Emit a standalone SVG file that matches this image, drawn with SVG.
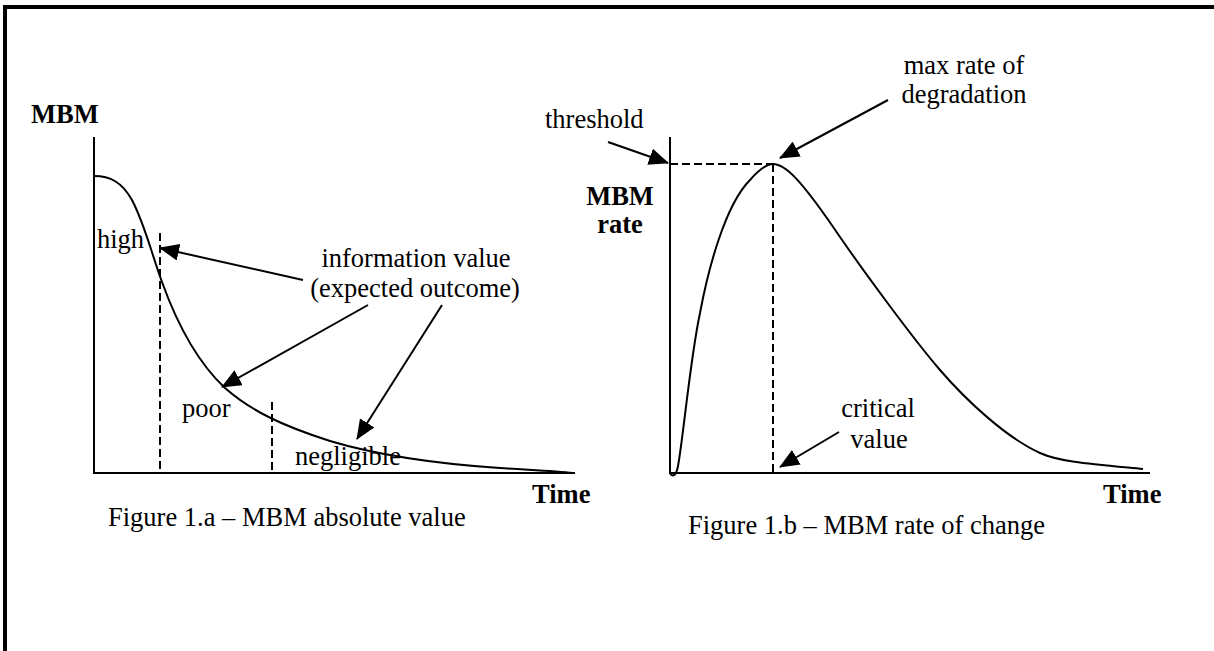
<svg xmlns="http://www.w3.org/2000/svg" width="1214" height="651" viewBox="0 0 1214 651">
<style>
text{font-family:"Liberation Serif","Times New Roman",serif;font-size:26.5px;fill:#000}
.b{font-weight:bold}
.m{text-anchor:middle}
.ax{stroke:#000;stroke-width:2;fill:none}
.cv{stroke:#000;stroke-width:2;fill:none;stroke-linejoin:round}
.ds{stroke:#000;stroke-width:2;stroke-dasharray:8 4;fill:none}
.ar{stroke:#000;stroke-width:2;fill:none;marker-end:url(#ah)}
</style>
<defs>
<marker id="ah" viewBox="0 0 20 17" refX="19" refY="8.5" markerWidth="20" markerHeight="17" markerUnits="userSpaceOnUse" orient="auto">
<path d="M0,0 L20,8.5 L0,17 z" fill="#000"/>
</marker>
</defs>
<rect width="1214" height="651" fill="#fff"/>
<g id="frame">
<line x1="3" y1="7" x2="1214" y2="7" stroke="#000" stroke-width="4"/>
<line x1="5" y1="5" x2="5" y2="651" stroke="#000" stroke-width="4"/>
</g>
<g id="chart-a">
<line class="ax" x1="94" y1="137" x2="94" y2="473"/>
<line class="ax" x1="93" y1="473" x2="575" y2="473"/>
<path class="cv" d="M94,176 C110,176 122,182 132,200 C145,225 152,255 162,282 C175,318 195,360 225,388 C250,410 280,425 330,441 C380,456 440,464 500,468 C530,470 555,471 573,473"/>
<line class="ds" x1="160" y1="233" x2="160" y2="470"/>
<line class="ds" x1="272" y1="402" x2="272" y2="473"/>
<text class="b" x="31" y="123">MBM</text>
<text x="97" y="248">high</text>
<text x="182" y="417">poor</text>
<text x="295" y="465">negligible</text>
<text class="m" x="416" y="267">information value</text>
<text class="m" x="415" y="297">(expected outcome)</text>
<text class="b" x="532" y="503">Time</text>
<text x="108" y="526">Figure 1.a – MBM absolute value</text>
</g>
<g id="chart-b">
<line class="ax" x1="670" y1="137" x2="670" y2="473"/>
<line class="ax" x1="669" y1="473" x2="1150" y2="473"/>
<path class="cv" d="M670,473 C672,477 676,477 678,466 C683,440 690,360 700,313 C708,270 725,205 750,180 C757,172 765,164 773,164 C785,164 800,178 840,237 C860,266 910,335 940,370 C965,399 1005,437 1040,453 C1060,462 1090,464 1143,469"/>
<line class="ds" x1="670" y1="164" x2="773" y2="164"/>
<line class="ds" x1="773" y1="164" x2="773" y2="472"/>
<text x="545" y="128">threshold</text>
<text class="b m" x="620" y="205">MBM</text>
<text class="b m" x="620" y="233">rate</text>
<text class="m" x="964" y="74">max rate of</text>
<text class="m" x="964" y="103">degradation</text>
<text class="m" x="878" y="417">critical</text>
<text class="m" x="879" y="448">value</text>
<text class="b" x="1103" y="503">Time</text>
<text x="688" y="534">Figure 1.b – MBM rate of change</text>
</g>
<g id="connectors">
<line class="ar" x1="303" y1="280" x2="160" y2="248"/>
<line class="ar" x1="368" y1="305" x2="222" y2="387"/>
<line class="ar" x1="442" y1="305" x2="357" y2="439"/>
<line class="ar" x1="608" y1="142" x2="668" y2="163"/>
<line class="ar" x1="888" y1="100" x2="780" y2="158"/>
<line class="ar" x1="839" y1="432" x2="780" y2="467"/>
</g>
</svg>
